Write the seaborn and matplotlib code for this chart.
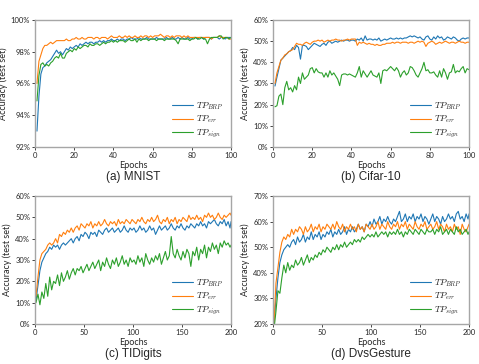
import numpy as np
import pandas as pd
import matplotlib
matplotlib.use("Agg")
import matplotlib.pyplot as plt
import seaborn as sns

# epochs
ep100 = list(range(1, 101))
ep200 = list(range(1, 200, 2)) + [200]

labels = [r"$TP_{BRP}$", r"$TP_{err}$", r"$TP_{sign}$"]

# (a) MNIST
mnist_brp = [93.0, 95.2, 96.6, 97.0, 97.1, 97.3, 97.4, 97.5, 97.7, 97.9,
             98.1, 97.9, 98.0, 97.8, 98.0, 98.2, 98.1, 98.3, 98.2, 98.3,
             98.4, 98.3, 98.5, 98.4, 98.5, 98.6, 98.5, 98.6, 98.6, 98.5,
             98.6, 98.6, 98.7, 98.6, 98.7, 98.6, 98.7, 98.7, 98.8, 98.7,
             98.7, 98.8, 98.7, 98.8, 98.8, 98.7, 98.8, 98.8, 98.9, 98.8,
             98.8, 98.8, 98.9, 98.8, 98.8, 98.8, 98.9, 98.8, 98.8, 98.8,
             98.8, 98.9, 98.8, 98.8, 98.8, 98.8, 98.9, 98.8, 98.8, 98.9,
             98.8, 98.8, 98.9, 98.8, 98.9, 98.8, 98.8, 98.9, 98.8, 98.8,
             98.9, 98.9, 98.8, 98.9, 98.9, 98.8, 98.9, 98.9, 98.9, 98.8,
             98.9, 98.9, 98.9, 98.8, 98.9, 98.9, 98.8, 98.9, 98.9, 98.9]
mnist_err = [96.0, 97.4, 97.8, 98.2, 98.4, 98.4, 98.5, 98.6, 98.5, 98.6,
             98.7, 98.7, 98.7, 98.7, 98.7, 98.8, 98.7, 98.7, 98.8, 98.8,
             98.9, 98.8, 98.8, 98.9, 98.8, 98.8, 98.9, 98.9, 98.9, 98.8,
             98.9, 98.9, 98.8, 98.9, 98.9, 98.9, 98.8, 98.9, 99.0, 98.9,
             98.9, 98.9, 99.0, 98.9, 98.9, 99.0, 98.9, 99.0, 98.9, 98.9,
             99.0, 98.9, 98.9, 99.0, 98.9, 99.0, 99.0, 98.9, 99.0, 98.9,
             99.0, 99.0, 99.0, 99.1, 99.0, 98.9, 99.0, 99.0, 98.9, 99.0,
             98.9, 99.0, 99.0, 99.0, 98.9, 99.0, 98.9, 99.0, 98.9, 98.9,
             98.9, 98.9, 98.9, 98.9, 98.9, 98.9, 98.9, 98.9, 98.9, 98.8,
             98.9, 98.9, 98.9, 99.0, 98.9, 98.9, 98.9, 98.9, 98.8, 98.8]
mnist_sign = [94.9, 96.5, 97.2, 97.3, 97.1, 97.2, 97.1, 97.3, 97.4, 97.6,
              97.7, 97.6, 97.9, 97.6, 97.6, 97.9, 98.0, 98.1, 98.0, 98.2,
              98.1, 98.3, 98.2, 98.3, 98.4, 98.4, 98.3, 98.5, 98.4, 98.4,
              98.5, 98.5, 98.4, 98.5, 98.6, 98.5, 98.6, 98.6, 98.7, 98.6,
              98.7, 98.6, 98.7, 98.7, 98.7, 98.6, 98.7, 98.8, 98.7, 98.7,
              98.8, 98.6, 98.8, 98.7, 98.8, 98.8, 98.8, 98.7, 98.8, 98.8,
              98.8, 98.7, 98.8, 98.8, 98.8, 98.7, 98.8, 98.8, 98.8, 98.8,
              98.8, 98.7, 98.5, 98.8, 98.8, 98.8, 98.8, 98.8, 98.7, 98.8,
              98.8, 98.9, 98.8, 98.8, 98.9, 98.8, 98.8, 98.5, 98.8, 98.9,
              98.9, 98.9, 98.9, 99.0, 99.0, 98.8, 98.9, 98.9, 98.8, 98.9]

# (b) Cifar-10
cifar_brp = [28.8, 33.0, 37.0, 41.0, 42.0, 43.0, 44.0, 45.0, 45.5, 47.0,
             46.0, 48.0, 47.0, 41.5, 48.0, 48.0, 47.5, 46.0, 47.0, 48.0,
             49.0, 48.5, 48.0, 47.5, 48.5, 49.0, 48.0, 49.5, 50.0, 49.0,
             49.5, 50.0, 49.5, 50.0, 50.5, 50.0, 50.5, 50.5, 50.0, 50.5,
             50.5, 50.0, 51.0, 50.5, 51.5, 50.0, 52.5, 50.5, 51.0, 51.0,
             50.5, 51.0, 50.5, 51.5, 50.0, 50.5, 51.0, 50.5, 51.0, 51.5,
             51.0, 51.0, 51.5, 51.0, 51.5, 51.0, 51.5, 51.5, 52.0, 52.5,
             52.0, 52.5, 52.0, 51.5, 52.0, 51.0, 50.5, 52.0, 52.5, 51.0,
             50.5, 52.0, 51.0, 52.5, 51.5, 52.0, 50.5, 51.0, 52.0, 51.5,
             51.0, 52.0, 51.5, 50.5, 50.0, 51.0, 51.5, 51.0, 51.5, 51.5]
cifar_err = [30.0, 35.0, 38.0, 41.0, 42.0, 43.5, 44.0, 45.0, 45.5, 46.0,
             47.5, 49.0, 48.5, 48.5, 48.0, 49.0, 49.5, 49.0, 48.5, 49.5,
             50.0, 50.0, 50.5, 50.0, 50.5, 49.5, 50.0, 50.5, 50.0, 50.5,
             50.5, 51.0, 50.5, 50.5, 50.0, 50.5, 50.5, 51.0, 50.5, 51.0,
             51.0, 51.0, 48.0, 49.5, 49.0, 49.5, 49.0, 48.5, 49.0, 48.5,
             48.5, 48.0, 48.5, 48.0, 48.0, 48.5, 48.5, 49.0, 49.0, 49.0,
             49.5, 49.0, 49.5, 49.5, 49.0, 49.5, 49.5, 49.5, 49.0, 49.5,
             49.5, 49.0, 49.5, 50.0, 49.5, 50.0, 49.5, 47.5, 49.0, 49.5,
             50.0, 49.5, 48.5, 49.0, 49.5, 49.0, 49.5, 50.0, 49.5, 49.0,
             49.5, 49.5, 49.0, 49.5, 50.0, 49.5, 49.5, 49.0, 49.5, 49.5]
cifar_sign = [19.0, 19.5, 24.0, 25.0, 20.0, 28.0, 31.0, 27.0, 28.0, 26.0,
              29.0, 27.0, 33.0, 30.0, 35.0, 32.0, 33.0, 34.0, 37.0, 37.5,
              35.0, 37.0, 35.5, 35.0, 35.0, 33.0, 35.0, 33.0, 36.0, 34.0,
              35.0, 33.5, 32.0, 29.0, 34.0, 34.5, 34.5, 34.0, 34.5, 34.0,
              33.5, 33.0, 35.0, 38.0, 33.0, 36.0, 34.5, 33.0, 34.5, 36.0,
              34.0, 33.5, 33.0, 35.0, 30.0, 36.0, 36.5, 36.0, 37.0, 38.0,
              37.0, 36.0, 37.5, 36.0, 33.0, 35.0, 36.0, 34.0, 35.0, 38.0,
              37.5, 36.0, 34.0, 33.0, 35.0, 37.0, 40.0, 36.0, 36.5, 35.0,
              35.0, 35.5, 34.0, 33.0, 36.0, 33.0, 37.0, 35.0, 32.0, 35.0,
              35.5, 39.0, 35.0, 36.0, 35.5, 37.0, 38.0, 35.0, 37.0, 36.5]

# (c) TIDigits
tidig_brp = [11, 18, 25, 29, 31, 33, 34, 36, 35, 37,
             36, 37, 35, 37, 38, 37, 38, 39, 40, 38,
             40, 41, 39, 42, 41, 43, 42, 40, 43, 42,
             43, 41, 44, 43, 42, 44, 45, 43, 44, 45,
             43, 44, 45, 43, 44, 46, 44, 43, 45, 44,
             45, 43, 44, 46, 44, 45, 43, 44, 46, 44,
             45, 42, 44, 46, 44, 45, 46, 44, 45, 47,
             45, 44, 46, 45, 47, 45, 44, 46, 45, 47,
             46, 45, 47, 46, 48, 46, 47, 45, 48, 47,
             48, 49, 47, 46, 48, 47, 49, 46, 48, 45, 48]
tidig_err = [13, 22, 30, 33, 34, 35, 37, 38, 37, 38,
             40, 38, 42, 41, 43, 42, 44, 43, 45, 43,
             45, 46, 44, 47, 46, 45, 47, 46, 48, 45,
             47, 46, 48, 46, 47, 49, 47, 46, 48, 47,
             48, 46, 49, 47, 48, 47, 49, 48, 47, 49,
             48, 47, 49, 48, 50, 48, 47, 49, 48, 50,
             48, 49, 51, 48, 47, 49, 48, 50, 47, 49,
             48, 50, 47, 49, 48, 50, 49, 48, 51, 49,
             50, 49, 51, 49, 50, 48, 51, 50, 52, 50,
             51, 49, 50, 52, 50, 49, 51, 50, 51, 52, 51]
tidig_sign = [10, 14, 9, 15, 12, 19, 13, 22, 16, 20,
              19, 23, 18, 24, 20, 22, 25, 21, 24, 26,
              23, 26, 25, 27, 24, 26, 28, 25, 27, 29,
              26, 28, 30, 25, 29, 27, 31, 28, 26, 30,
              28, 31, 27, 29, 32, 28, 30, 27, 31, 29,
              30, 28, 32, 29, 31, 27, 33, 30, 28, 31,
              29, 32, 30, 33, 28, 31, 34, 30, 32, 41,
              33, 31, 35, 32, 30, 34, 31, 35, 33, 27,
              34, 32, 36, 30, 35, 33, 37, 31, 36, 34,
              38, 35, 37, 33, 38, 36, 39, 37, 38, 36, 37]

# (d) DvsGesture
dvs_brp = [20, 30, 38, 44, 47, 49, 50, 51, 50, 52,
           53, 51, 54, 52, 53, 55, 52, 54, 53, 56,
           53, 55, 54, 56, 53, 55, 54, 56, 55, 57,
           54, 56, 55, 57, 55, 56, 58, 55, 57, 56,
           58, 56, 57, 59, 57, 58, 56, 59, 58, 60,
           58, 61, 59, 60, 62, 59, 61, 60, 62, 60,
           59, 61, 60, 62, 64, 60, 61, 63, 60, 62,
           61, 63, 60, 62, 61, 63, 60, 62, 61, 59,
           61, 63, 60, 62, 61, 59, 62, 60, 61, 63,
           61, 62, 60, 63, 64, 61, 62, 60, 63, 61, 63]
dvs_err = [20, 36, 42, 48, 52, 54, 53, 55, 54, 57,
           55, 57, 56, 58, 57, 55, 58, 56, 57, 59,
           56, 58, 57, 59, 56, 58, 57, 59, 58, 57,
           59, 57, 60, 58, 57, 59, 56, 58, 57, 59,
           57, 58, 56, 59, 57, 58, 56, 59, 58, 57,
           59, 57, 58, 60, 57, 59, 58, 57, 60, 58,
           57, 59, 58, 60, 57, 59, 58, 60, 57, 59,
           58, 57, 60, 58, 57, 59, 58, 60, 57, 58,
           59, 57, 58, 60, 57, 59, 58, 56, 59, 57,
           58, 56, 59, 57, 58, 55, 59, 57, 56, 58, 59]
dvs_sign = [18, 25, 33, 32, 38, 43, 40, 44, 41, 43,
            42, 45, 43, 44, 46, 43, 45, 47, 44, 46,
            45, 47, 46, 48, 47, 49, 48, 50, 49, 48,
            50, 49, 51, 49, 51, 50, 52, 50, 51, 52,
            51, 53, 52, 53, 52, 54, 53, 54, 55, 54,
            55, 54, 56, 54, 55, 56, 55, 56, 54, 56,
            55, 56, 55, 57, 55, 56, 54, 56, 55, 57,
            56, 55, 57, 56, 55, 57, 56, 55, 57, 56,
            56, 57, 55, 57, 56, 58, 55, 56, 57, 55,
            57, 56, 55, 58, 56, 57, 55, 56, 57, 55, 56]


def to_long(epochs, brp, err, sign):
    frames = []
    for lab, vals in zip(labels, [brp, err, sign]):
        frames.append(pd.DataFrame({"epoch": epochs, "acc": vals, "method": lab}))
    return pd.concat(frames, ignore_index=True)


sns.set_style("white")
plt.rcParams["font.family"] = ["Lato", "DejaVu Sans"]
plt.rcParams["mathtext.fontset"] = "cm"

palette = ["#1f77b4", "#ff7f0e", "#2ca02c"]

fig = plt.figure(figsize=(4.79, 3.64), dpi=100)
panels = [
    ([0.0731, 0.5962, 0.4092, 0.3489], ep100, mnist_brp, mnist_err, mnist_sign, (92, 100), [92, 94, 96, 98, 100], 100, "(a) MNIST"),
    ([0.5700, 0.5962, 0.4092, 0.3489], ep100, cifar_brp, cifar_err, cifar_sign, (0, 60), [0, 10, 20, 30, 40, 50, 60], 100, "(b) Cifar-10"),
    ([0.0731, 0.1099, 0.4092, 0.3516], ep200, tidig_brp, tidig_err, tidig_sign, (0, 60), [0, 10, 20, 30, 40, 50, 60], 200, "(c) TIDigits"),
    ([0.5700, 0.1099, 0.4092, 0.3516], ep200, dvs_brp, dvs_err, dvs_sign, (20, 70), [20, 30, 40, 50, 60, 70], 200, "(d) DvsGesture"),
]

for rect, ep, b, e, s, ylim, yticks, xmax, title in panels:
    ax = fig.add_axes(rect)
    df = to_long(ep, b, e, s)
    sns.lineplot(data=df, x="epoch", y="acc", hue="method", palette=palette,
                 linewidth=0.8, ax=ax)
    ax.set_xlim(0, xmax)
    ax.set_ylim(*ylim)
    ax.set_yticks(yticks)
    ax.set_yticklabels([f"{t}%" for t in yticks])
    if xmax == 100:
        ax.set_xticks([0, 20, 40, 60, 80, 100])
    else:
        ax.set_xticks([0, 50, 100, 150, 200])
    ax.tick_params(labelsize=5.5, length=2, width=0.6, pad=1.5, left=True, bottom=True)
    for sp in ax.spines.values():
        sp.set_color("#a6a6a6")
        sp.set_linewidth(1.0)
    ax.set_xlabel("Epochs", fontsize=6.5, labelpad=1.5)
    ax.set_ylabel("Accuracy (test set)", fontsize=6.5, labelpad=2)
    ax.legend(loc="lower right", frameon=False, fontsize=6.5, handlelength=2.3,
              handletextpad=0.4, labelspacing=0.25, borderaxespad=0.4)
    # panel caption, about 24 px under the axes
    ax.annotate(title, xy=(0.5, 0), xycoords="axes fraction",
                xytext=(0, -17), textcoords="offset points",
                ha="center", va="top", fontsize=8.5, family="Liberation Sans")

plt.savefig("out.png", dpi=100)
